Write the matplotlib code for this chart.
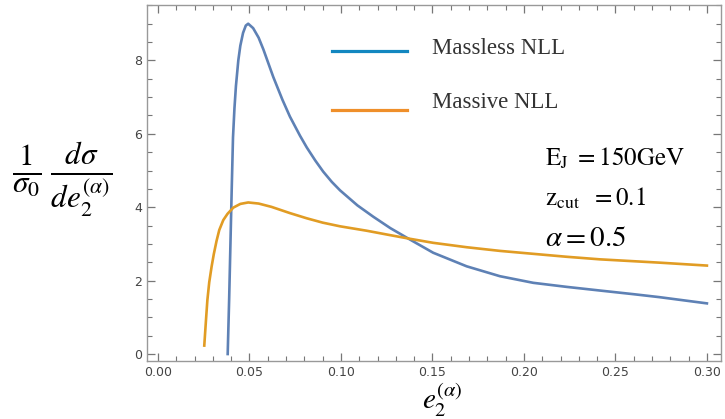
import matplotlib
matplotlib.use("Agg")
import matplotlib.pyplot as plt
from matplotlib.lines import Line2D
from matplotlib.ticker import MultipleLocator

plt.rcParams['mathtext.fontset'] = 'stix'

# Massless NLL (blue)
massless_x = [0.0381, 0.0389, 0.0396, 0.0403, 0.0410, 0.0418, 0.0426, 0.0439, 0.0450,
              0.0465, 0.0480, 0.0493, 0.0520, 0.0550, 0.0576, 0.0630, 0.0680, 0.0721,
              0.0776, 0.0813, 0.0860, 0.0903, 0.0950, 0.0995, 0.1090, 0.1177, 0.1270,
              0.1377, 0.1504, 0.1687, 0.1869, 0.2051, 0.2233, 0.2415, 0.2600, 0.2740,
              0.3000]
massless_y = [0.00, 1.50, 3.00, 4.50, 5.90, 6.70, 7.30, 8.00, 8.40,
              8.75, 8.95, 9.00, 8.88, 8.62, 8.30, 7.55, 6.93, 6.47,
              5.95, 5.63, 5.27, 4.97, 4.69, 4.46, 4.05, 3.74, 3.43,
              3.12, 2.76, 2.39, 2.12, 1.94, 1.83, 1.73, 1.63, 1.55,
              1.38]

# Massive NLL (orange)
massive_x = [0.0253, 0.0262, 0.0270, 0.0280, 0.0293, 0.0305, 0.0320, 0.0335, 0.0357,
             0.0380, 0.0412, 0.0450, 0.0493, 0.0550, 0.0620, 0.0721, 0.0812, 0.0900,
             0.0995, 0.1140, 0.1268, 0.1377, 0.1504, 0.1687, 0.1869, 0.2051, 0.2233,
             0.2415, 0.2740, 0.3000]
massive_y = [0.23, 0.90, 1.47, 1.95, 2.38, 2.72, 3.08, 3.38, 3.65,
             3.82, 3.99, 4.09, 4.13, 4.10, 4.01, 3.84, 3.70, 3.58,
             3.48, 3.36, 3.24, 3.14, 3.03, 2.91, 2.81, 2.73, 2.65,
             2.58, 2.49, 2.41]

series_labels = ["Massless NLL", "Massive NLL"]

fig = plt.figure(figsize=(7.25, 4.19), dpi=100)
ax = fig.add_axes([147/725, 1-361/419, (721-147)/725, (361-5)/419])

ax.plot(massless_x, massless_y, color='#5E81B5', lw=1.9, solid_joinstyle='round')
ax.plot(massive_x, massive_y, color='#E19C24', lw=1.9, solid_joinstyle='round')

ax.set_xlim(-0.006, 0.3077)
ax.set_ylim(-0.19, 9.51)
ax.xaxis.set_minor_locator(MultipleLocator(0.01))
ax.yaxis.set_minor_locator(MultipleLocator(0.5))
ax.set_xticks([0.0, 0.05, 0.10, 0.15, 0.20, 0.25, 0.30])
ax.set_xticklabels(['0.00', '0.05', '0.10', '0.15', '0.20', '0.25', '0.30'])
ax.set_yticks([0, 2, 4, 6, 8])
ax.set_yticklabels(['0', '2', '4', '6', '8'])
ax.tick_params(which='both', direction='in', top=True, right=True, color='#777777',
               labelcolor='#444444', labelsize=9)
ax.tick_params(which='major', length=6, width=0.9)
ax.tick_params(which='minor', length=3.5, width=0.8)
for s in ax.spines.values():
    s.set_color('#999999')
    s.set_linewidth(1.0)

# legend (manual)
fig.add_artist(Line2D([331.7/725, 406.7/725], [1-51/419, 1-51/419],
                      color='#1287C0', lw=2.3))
fig.add_artist(Line2D([331.7/725, 406.7/725], [1-110/419, 1-110/419],
                      color='#EF8F2A', lw=2.3))
fig.text(431.7/725, 1-49/419, series_labels[0], family='Liberation Serif', fontsize=16.4,
         color='#333333', va='center', ha='left')
fig.text(431.7/725, 1-103/419, series_labels[1], family='Liberation Serif', fontsize=16.4,
         color='#333333', va='center', ha='left')

# annotation
fig.text(545/725, 1-158/419, r'$\mathrm{E}_{\mathrm{J}}\ =150\mathrm{GeV}$', fontsize=18,
         color='black', va='center', ha='left')
fig.text(545/725, 1-198/419, r'$\mathrm{z}_{\mathrm{cut}}\ \ =0.1$', fontsize=18,
         color='black', va='center', ha='left')
fig.text(545/725, 1-238/419, r'$\alpha=0.5$', fontsize=21,
         color='black', va='center', ha='left')

# axis labels
fig.text(62/725, 1-180/419, r'$\frac{1}{\sigma_0}\,\frac{d\sigma}{de_2^{(\alpha)}}$',
         fontsize=32, ha='center', va='center')
fig.text(442/725, 1-400/419, r'$e_2^{(\alpha)}$', fontsize=21, ha='center', va='center')

fig.savefig('out.png', dpi=100)
